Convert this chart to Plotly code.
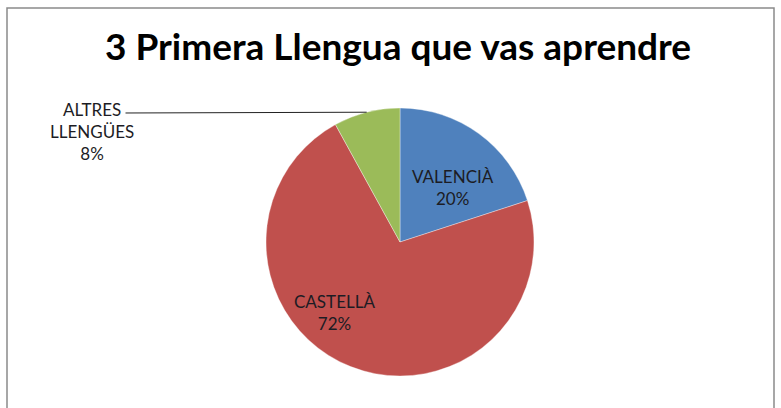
import math
import plotly.graph_objects as go

# chart data
labels = ["VALENCIÀ", "CASTELLÀ", "ALTRES LLENGÜES"]
values = [20, 72, 8]
colors = ["#4F81BD", "#C0504D", "#9BBB59"]
title = "3 Primera Llengua que vas aprendre"

W, H = 781, 408
cx, cy, r = 400, 242, 134  # pie centre / radius in pixels

dom_x = [(cx - r) / W, (cx + r) / W]
dom_y = [(H - cy - r) / H, (H - cy + r) / H]

fig = go.Figure(go.Pie(
    labels=labels,
    values=values,
    textinfo="none",
    sort=False,
    direction="clockwise",
    rotation=0,
    marker=dict(colors=colors, line=dict(color="rgba(255,255,255,0.6)", width=0.6)),
    domain=dict(x=dom_x, y=dom_y),
    showlegend=False,
    hoverinfo="label+percent",
))

# data labels, placed like the original (pixel positions of label centres)
label_pos = [(453, 188), (334, 312), (92, 132)]
label_text = [f"{l}<br>{v}%" for l, v in zip(labels, values)]
label_text[2] = f"ALTRES<br>LLENGÜES<br>{values[2]}%"
for (px, py), t in zip(label_pos, label_text):
    fig.add_annotation(
        x=px / W, y=1 - py / H, xref="paper", yref="paper",
        xanchor="center", yanchor="middle", text=t,
        showarrow=False, align="center",
        font=dict(family="Lato", size=17, color="#1c1c24"),
    )

# leader line for the small slice: point on the edge at its mid angle
start = sum(values[:2]) / sum(values) * 360
mid = math.radians(start + values[2] / sum(values) * 360 / 2)
ex = cx + r * math.sin(mid)
ey = cy - r * math.cos(mid)
lx, ly = 124, 113  # end of the leader next to the label

fig.add_annotation(
    x=ex / W, y=1 - ey / H, xref="paper", yref="paper",
    ax=lx - ex, ay=ly - ey, axref="pixel", ayref="pixel",
    showarrow=True, arrowhead=0, arrowwidth=1, arrowcolor="#222222",
    text="", standoff=0,
)

fig.update_layout(
    width=W, height=H,
    margin=dict(l=0, r=0, t=0, b=0),
    paper_bgcolor="white",
    title=dict(text=title, x=398 / W, xanchor="center", y=1 - 47 / H, yanchor="middle",
               font=dict(family="Lato", size=37, color="#000000", weight="bold")),
    shapes=[dict(type="rect", xref="paper", yref="paper",
                 x0=7 / W, x1=774 / W, y0=-0.1, y1=1 - 8 / H,
                 line=dict(color="#8a8a8a", width=1.5))],
)

fig.write_html("out.html", config={"displayModeBar": False},
               post_script="document.body.style.margin='0';")
